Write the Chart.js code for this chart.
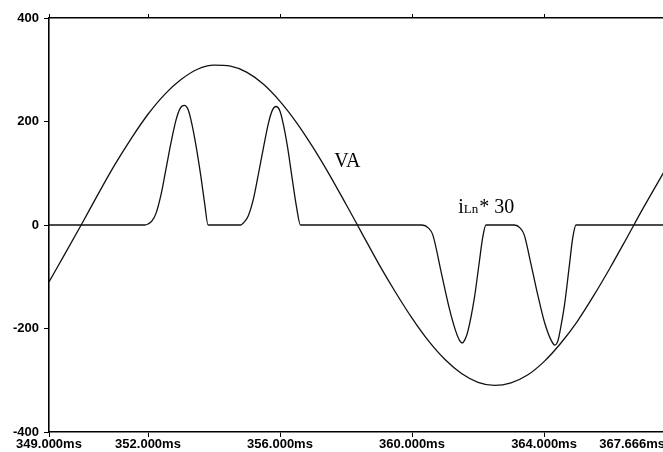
<!DOCTYPE html>
<html>
<head>
<meta charset="utf-8">
<script src="https://cdn.jsdelivr.net/npm/chart.js@4.4.0/dist/chart.umd.min.js"></script>
<style>
  html, body { margin: 0; padding: 0; background: #fff; overflow: hidden; }
  canvas { display: block; }
</style>
</head>
<body>
<canvas id="myChart" width="665" height="452"></canvas>
<script>
// ---------------------------------------------------------------
// data (time in ms)
// ---------------------------------------------------------------
const vaTime = [349.0, 349.5, 350.0, 350.5, 351.0, 351.5, 352.0, 352.5, 353.0, 353.5,
  354.0, 354.5, 355.0, 355.5, 356.0, 356.5, 357.0, 357.5, 358.0, 358.5,
  359.0, 359.5, 360.0, 360.5, 361.0, 361.5, 362.0, 362.5, 363.0, 363.5,
  364.0, 364.5, 365.0, 365.5, 366.0, 366.5, 367.0, 367.666];
const vaValue = [-110, -54, 3, 61, 117, 168, 214, 252, 281, 301,
  309, 307, 295, 272, 239, 198, 150, 97, 40, -18,
  -76, -130, -180, -224, -260, -287, -304, -310, -305, -290,
  -264, -229, -187, -137, -83, -26, 32, 106];

const iTime = [349.0, 351.9, 352.0, 352.12, 352.24, 352.4, 352.55, 352.7, 352.85, 352.97,
  353.1, 353.22, 353.33, 353.45, 353.6, 353.72, 353.82,
  354.8, 354.92, 355.04, 355.2, 355.35, 355.5, 355.65, 355.77, 355.88, 356.0,
  356.1, 356.23, 356.38, 356.5, 356.62,
  360.3, 360.5, 360.63, 360.88, 361.13, 361.33, 361.45, 361.52, 361.6, 361.69,
  361.89, 362.04, 362.14, 362.24,
  363.1, 363.28, 363.4, 363.61, 363.81, 364.01, 364.21, 364.33, 364.42, 364.5,
  364.62, 364.77, 364.87, 364.97, 367.666];
const iValue = [0, 0, 2, 8, 22, 60, 110, 160, 203, 225,
  231, 222, 195, 155, 95, 40, 0,
  0, 6, 18, 52, 100, 150, 197, 222, 229, 220,
  195, 150, 85, 35, 0,
  0, -6, -19, -90, -161, -206, -224, -228, -222, -206,
  -141, -71, -25, 0,
  0, -6, -19, -77, -135, -187, -222, -232, -224, -200,
  -155, -77, -25, 0, 0];

const xTickValues = [349, 352, 356, 360, 364, 367.666];
const yTickValues = [-400, -200, 0, 200, 400];

const seriesNames = ['VA', 'iLn*30'];

function toPoints(xs, ys) {
    return xs.map((x, i) => ({ x: x, y: ys[i] }));
}

const axisFont = { family: 'Liberation Sans', weight: 'bold', size: 13 };

// last tick label sits right-aligned at the end of the axis
const lastLabelPlugin = {
    id: 'lastLabel',
    beforeDraw(chart) {
        const sc = chart.scales.x;
        const items = sc.getLabelItems();
        const last = items[items.length - 1];
        if (last) {
            last.options.textAlign = 'right';
        }
    }
};

// trace annotations
const notesPlugin = {
    id: 'notes',
    afterDatasetsDraw(chart) {
        const c = chart.ctx;
        const xs = chart.scales.x, ys = chart.scales.y;
        c.save();
        c.fillStyle = '#000';
        c.textBaseline = 'alphabetic';
        c.textAlign = 'left';
        c.font = '20px "Liberation Serif"';
        c.fillText('VA', xs.getPixelForValue(357.64), ys.getPixelForValue(112));

        let px = xs.getPixelForValue(361.4);
        const py = ys.getPixelForValue(23);
        c.font = '20px "Liberation Serif"';
        c.fillText('i', px, py);
        px += c.measureText('i').width;
        c.font = '13px "Liberation Serif"';
        c.fillText('Ln', px, py);
        px += c.measureText('Ln').width + 1;
        c.font = '20px "Liberation Serif"';
        c.fillText('* 30', px, py);
        c.restore();
    }
};

const ctx = document.getElementById('myChart');
const data = {
    datasets: [{
        label: seriesNames[0],
        data: toPoints(vaTime, vaValue),
        borderColor: '#111',
        borderWidth: 1.3,
        pointRadius: 0,
        cubicInterpolationMode: 'monotone'
    }, {
        label: seriesNames[1],
        data: toPoints(iTime, iValue),
        borderColor: '#111',
        borderWidth: 1.3,
        pointRadius: 0,
        cubicInterpolationMode: 'monotone'
    }]
};

const config = {
    type: 'line',
    data: data,
    options: {
        responsive: false,
        animation: false,
        layout: { padding: 0 },
        plugins: {
            legend: { display: false },
            tooltip: { enabled: false }
        },
        scales: {
            x: {
                type: 'linear',
                position: 'bottom',
                min: 349,
                max: 367.666,
                afterBuildTicks: s => { s.ticks = xTickValues.map(v => ({ value: v })); },
                ticks: {
                    callback: v => v.toFixed(3) + 'ms',
                    font: axisFont,
                    color: '#000',
                    padding: 0,
                    maxRotation: 0,
                    autoSkip: false
                },
                grid: { drawOnChartArea: false, tickLength: 5, color: '#000' },
                border: { color: '#000', width: 1.6 },
                afterFit: s => { s.height = 20; s.paddingLeft = 0; s.paddingRight = 0; }
            },
            xTop: {
                type: 'linear',
                position: 'top',
                min: 349,
                max: 367.666,
                afterBuildTicks: s => { s.ticks = xTickValues.map(v => ({ value: v })); },
                ticks: { display: false },
                grid: { drawOnChartArea: false, tickLength: 4, color: '#000' },
                border: { color: '#000', width: 1.4 },
                afterFit: s => { s.height = 18; s.paddingLeft = 0; s.paddingRight = 0; }
            },
            y: {
                min: -400,
                max: 400,
                afterBuildTicks: s => { s.ticks = yTickValues.map(v => ({ value: v })); },
                ticks: {
                    font: axisFont,
                    color: '#000',
                    padding: 5
                },
                grid: { drawOnChartArea: false, tickLength: 5, color: '#000' },
                border: { color: '#000', width: 1.6 },
                afterFit: s => { s.width = 49; s.paddingTop = 0; s.paddingBottom = 0; }
            }
        }
    },
    plugins: [lastLabelPlugin, notesPlugin]
};

var scope = new Chart(ctx, config);
</script>
</body>
</html>
